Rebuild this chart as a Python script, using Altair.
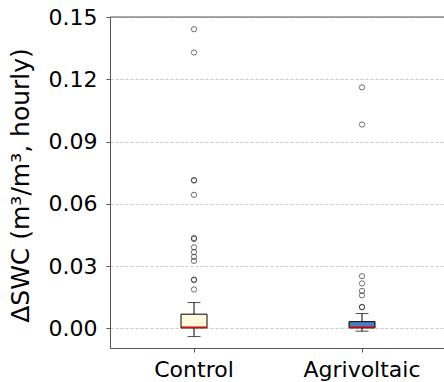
import altair as alt
import pandas as pd

groups = ["Control", "Agrivoltaic"]
box_fill = ["#fff8dc", "#4a7fc1"]
q1 = [0.0002, 0.0002]
median = [0.0005, 0.0005]
q3 = [0.0068, 0.0032]
whisker_low = [-0.0040, -0.0014]
whisker_high = [0.0124, 0.0071]

control_outliers = [0.1441, 0.1329, 0.0714, 0.0712, 0.0643, 0.0435, 0.0430,
                    0.0390, 0.0367, 0.0344, 0.0325, 0.0235, 0.0232, 0.0187]
agri_outliers = [0.1161, 0.0982, 0.0251, 0.0216, 0.0180, 0.0159, 0.0103, 0.0101]

y_ticks = [0.0, 0.03, 0.06, 0.09, 0.12, 0.15]
y_top = 0.15

stats = pd.DataFrame({
    "group": groups, "q1": q1, "median": median, "q3": q3,
    "lo": whisker_low, "hi": whisker_high, "fill": box_fill,
})
outl = pd.DataFrame({
    "group": ["Control"] * len(control_outliers) + ["Agrivoltaic"] * len(agri_outliers),
    "value": control_outliers + agri_outliers,
})

FONT = "DejaVu Sans"
xscale = alt.Scale(domain=groups, paddingInner=0, paddingOuter=0, range=[0, 336])
yscale = alt.Scale(domain=[-0.0095, y_top], nice=False, zero=False)

x_enc = alt.X("group:N", scale=xscale, sort=groups, title=None,
              axis=alt.Axis(labelAngle=0, labelFontSize=22, labelFont=FONT,
                            labelColor="#000", tickSize=4, labelPadding=7,
                            domainColor="#555", tickColor="#555", grid=False))
y_enc = alt.Y("lo:Q", scale=yscale, title="ΔSWC (m³/m³, hourly)",
              axis=alt.Axis(values=y_ticks, format=".2f", labelFontSize=22,
                            labelFont=FONT, labelColor="#000", tickSize=4,
                            labelPadding=9, domainColor="#555", tickColor="#555",
                            grid=True, gridColor="#bbbbbb", gridDash=[3, 2],
                            gridWidth=0.8, titleFontSize=25, titleFont=FONT,
                            titleFontWeight="normal", titleColor="#000",
                            titleX=-82, titleY=168, titleBaseline="alphabetic",
                            titleAlign="center", titleAngle=270))

base = alt.Chart(stats)
whisk = base.mark_rule(color="#000", strokeWidth=1).encode(
    x=x_enc, y=y_enc, y2="hi:Q")
top_spine = alt.Chart(pd.DataFrame({"top": [y_top]})).mark_rule(
    color="#555", strokeWidth=1).encode(
    y=alt.Y("top:Q", scale=yscale))
box = base.mark_bar(size=26, stroke="#000", strokeWidth=1).encode(
    x=alt.X("group:N", scale=xscale, sort=groups),
    y=alt.Y("q1:Q", scale=yscale), y2="q3:Q",
    fill=alt.Fill("fill:N", scale=None))
med = base.mark_tick(color="#e00000", thickness=2, size=26).encode(
    x=alt.X("group:N", scale=xscale, sort=groups),
    y=alt.Y("median:Q", scale=yscale))
cap_lo = base.mark_tick(color="#000", thickness=1, size=13).encode(
    x=alt.X("group:N", scale=xscale, sort=groups),
    y=alt.Y("lo:Q", scale=yscale))
cap_hi = base.mark_tick(color="#000", thickness=1, size=13).encode(
    x=alt.X("group:N", scale=xscale, sort=groups),
    y=alt.Y("hi:Q", scale=yscale))
pts = alt.Chart(outl).mark_point(shape="circle", filled=False, size=28,
                                 stroke="#333", strokeWidth=1).encode(
    x=alt.X("group:N", scale=xscale, sort=groups),
    y=alt.Y("value:Q", scale=yscale))

chart = alt.layer(whisk, top_spine, box, med, cap_lo, cap_hi, pts).properties(
    width=334, height=331,
    background="white",
    autosize=alt.AutoSizeParams(type="none"),
    padding={"left": 110, "top": 17, "right": 0, "bottom": 34},
).configure_view(strokeWidth=0, stroke="transparent")

chart.save("out.html", embed_options={"renderer": "svg", "actions": False})
